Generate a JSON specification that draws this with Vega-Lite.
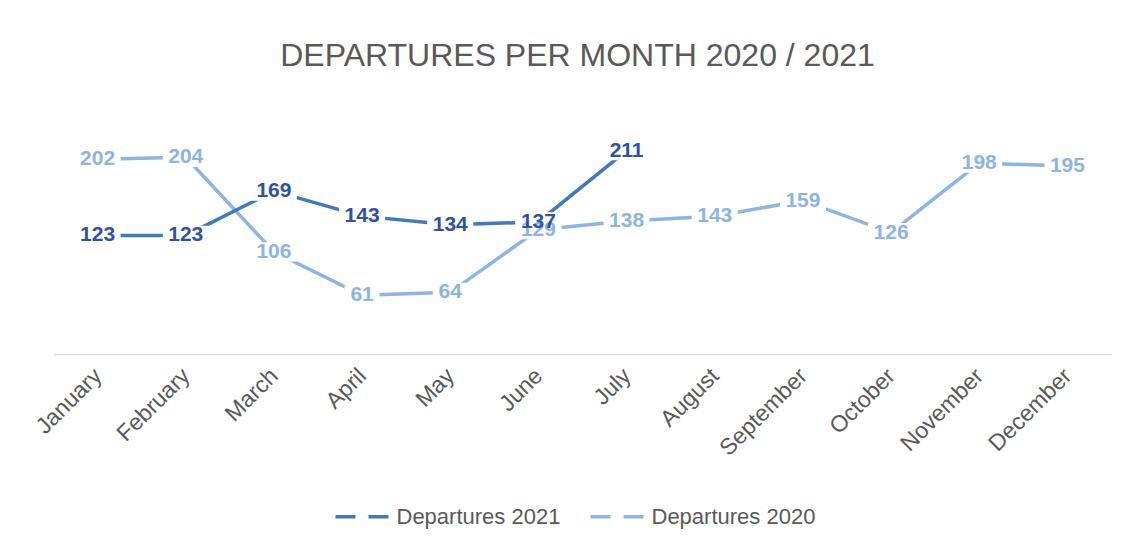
{
  "$schema": "https://vega.github.io/schema/vega-lite/v6.json",
  "width": 1058,
  "height": 241,
  "autosize": {"type": "none"},
  "padding": {"left": 53.5, "top": 113, "right": 10.5, "bottom": 192},
  "background": "white",
  "title": {
    "text": "DEPARTURES PER MONTH 2020 / 2021",
    "font": "Liberation Sans",
    "fontSize": 32,
    "fontWeight": "normal",
    "color": "#595959",
    "anchor": "middle",
    "dx": -5,
    "offset": 40
  },
  "config": {
    "view": {"stroke": null},
    "font": "Liberation Sans"
  },
  "data": {
    "values": [
      {"month": "January", "series": "Departures 2020", "value": 202},
      {"month": "February", "series": "Departures 2020", "value": 204},
      {"month": "March", "series": "Departures 2020", "value": 106},
      {"month": "April", "series": "Departures 2020", "value": 61},
      {"month": "May", "series": "Departures 2020", "value": 64},
      {"month": "June", "series": "Departures 2020", "value": 129},
      {"month": "July", "series": "Departures 2020", "value": 138},
      {"month": "August", "series": "Departures 2020", "value": 143},
      {"month": "September", "series": "Departures 2020", "value": 159},
      {"month": "October", "series": "Departures 2020", "value": 126},
      {"month": "November", "series": "Departures 2020", "value": 198},
      {"month": "December", "series": "Departures 2020", "value": 195},
      {"month": "January", "series": "Departures 2021", "value": 123},
      {"month": "February", "series": "Departures 2021", "value": 123},
      {"month": "March", "series": "Departures 2021", "value": 169},
      {"month": "April", "series": "Departures 2021", "value": 143},
      {"month": "May", "series": "Departures 2021", "value": 134},
      {"month": "June", "series": "Departures 2021", "value": 137},
      {"month": "July", "series": "Departures 2021", "value": 211}
    ]
  },
  "encoding": {
    "x": {
      "field": "month",
      "type": "ordinal",
      "sort": ["January","February","March","April","May","June","July","August","September","October","November","December"],
      "scale": {"type": "point", "padding": 0.5},
      "axis": {
        "title": null,
        "domainColor": "#D9D9D9",
        "domainWidth": 1.5,
        "ticks": false,
        "grid": false,
        "labelAngle": -45,
        "labelAlign": "right",
        "labelBaseline": "middle",
        "labelFontSize": 23,
        "labelColor": "#595959",
        "labelPadding": 18,
        "labelFont": "Liberation Sans"
      }
    },
    "y": {
      "field": "value",
      "type": "quantitative",
      "scale": {"domain": [0, 250], "nice": false, "zero": true},
      "axis": null
    }
  },
  "layer": [
    {
      "mark": {"type": "line", "strokeWidth": 3.5, "strokeCap": "butt"},
      "encoding": {
        "color": {
          "field": "series",
          "type": "nominal",
          "scale": {"domain": ["Departures 2021", "Departures 2020"], "range": ["#4178BE", "#8EB4E3"]},
          "legend": {
            "title": null,
            "orient": "none",
            "direction": "horizontal",
            "legendX": 280,
            "legendY": 375,
            "symbolType": "stroke",
            "symbolSize": 2809,
            "symbolStrokeWidth": 3.5,
            "symbolDash": [20, 13],
            "labelFontSize": 22,
            "labelLimit": 400,
            "labelColor": "#595959",
            "labelFont": "Liberation Sans",
            "labelOffset": 6,
            "columnPadding": 23,
            "padding": 0
          }
        },
        "order": {"field": "series", "sort": "ascending"}
      }
    },
    {
      "transform": [{"filter": "datum.value >= 100"}],
      "mark": {"type": "point", "shape": "M-1,-0.42H1V0.42H-1Z", "filled": true, "color": "white", "opacity": 1, "size": 2116, "strokeWidth": 0}
    },
    {
      "transform": [{"filter": "datum.value < 100"}],
      "mark": {"type": "point", "shape": "M-1,-0.55H1V0.55H-1Z", "filled": true, "color": "white", "opacity": 1, "size": 1225, "strokeWidth": 0}
    },
    {
      "transform": [{"filter": "datum.series == 'Departures 2020'"}],
      "mark": {"type": "text", "font": "Liberation Sans", "fontWeight": "bold", "fontSize": 21, "color": "#8EB4E3", "align": "center", "baseline": "middle"},
      "encoding": {"text": {"field": "value", "type": "quantitative"}}
    },
    {
      "transform": [{"filter": "datum.series == 'Departures 2021'"}],
      "mark": {"type": "text", "font": "Liberation Sans", "fontWeight": "bold", "fontSize": 21, "color": "#2F52A5", "align": "center", "baseline": "middle"},
      "encoding": {"text": {"field": "value", "type": "quantitative"}}
    }
  ]
}
